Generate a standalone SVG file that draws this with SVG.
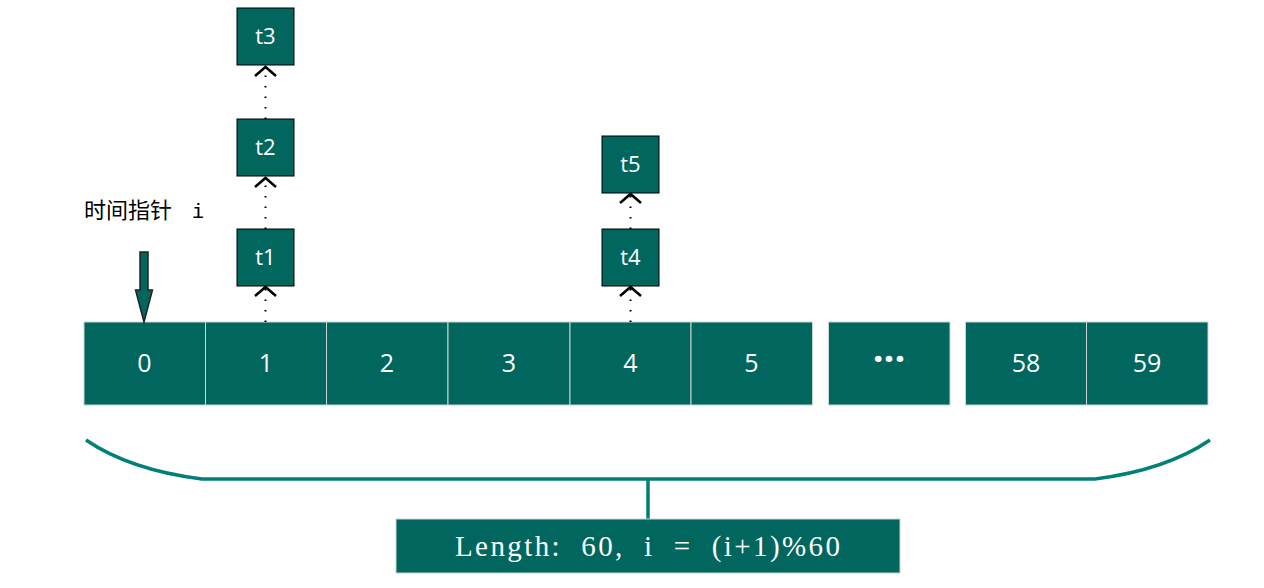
<svg xmlns="http://www.w3.org/2000/svg" width="1264" height="588" viewBox="0 0 1264 588">
<style>
.cell{fill:#00665E;stroke:#c8d6d4;stroke-width:1}
.lbl{font-family:"Open Sans","Noto Sans",sans-serif;font-size:25px;fill:#fff;text-anchor:middle}
.task{fill:#00665E;stroke:#000;stroke-width:1}
.tl{font-family:"Open Sans","Noto Sans",sans-serif;font-size:22px;fill:#fff;text-anchor:middle}
.dot{stroke:#000;stroke-width:2;stroke-dasharray:1.5 9;fill:none}
.chev{stroke:#000;stroke-width:2.5;fill:none}
.brace{stroke:#008077;stroke-width:3.5;fill:none}
</style>
<rect width="1264" height="588" fill="#fff"/>
<g id="slots">
<rect class="cell" x="84" y="322" width="121.5" height="83"/>
<rect class="cell" x="205.5" y="322" width="121" height="83"/>
<rect class="cell" x="326.5" y="322" width="121.5" height="83"/>
<rect class="cell" x="448" y="322" width="122" height="83"/>
<rect class="cell" x="570" y="322" width="121" height="83"/>
<rect class="cell" x="691" y="322" width="121.5" height="83"/>
<rect class="cell" x="828.5" y="322" width="121.5" height="83"/>
<rect class="cell" x="965.5" y="322" width="121" height="83"/>
<rect class="cell" x="1086.5" y="322" width="121.5" height="83"/>
<text class="lbl" x="144.5" y="372">0</text>
<text class="lbl" x="266" y="372">1</text>
<text class="lbl" x="387" y="372">2</text>
<text class="lbl" x="509" y="372">3</text>
<text class="lbl" x="630.5" y="372">4</text>
<text class="lbl" x="751.5" y="372">5</text>
<text class="lbl" x="889" y="372" style="font-weight:bold;font-size:38px">···</text>
<text class="lbl" x="1026" y="372">58</text>
<text class="lbl" x="1147" y="372">59</text>
</g>
<g id="connectors">
<line class="dot" x1="265.5" y1="322" x2="265.5" y2="288"/>
<polyline class="chev" points="255,296 265.5,287 276,296"/>
<line class="dot" x1="265.5" y1="229" x2="265.5" y2="178"/>
<polyline class="chev" points="255,187 265.5,178 276,187"/>
<line class="dot" x1="265.5" y1="119" x2="265.5" y2="67"/>
<polyline class="chev" points="255,76 265.5,67 276,76"/>
<line class="dot" x1="630.5" y1="322" x2="630.5" y2="288"/>
<polyline class="chev" points="620,296 630.5,287 641,296"/>
<line class="dot" x1="630.5" y1="229" x2="630.5" y2="195"/>
<polyline class="chev" points="620,203 630.5,194 641,203"/>
</g>
<g id="t1"><rect class="task" x="237" y="229" width="57" height="57"/><text class="tl" x="265.5" y="265">t1</text></g>
<g id="t2"><rect class="task" x="237" y="119" width="57" height="57"/><text class="tl" x="265.5" y="155">t2</text></g>
<g id="t3"><rect class="task" x="237" y="8" width="57" height="57"/><text class="tl" x="265.5" y="44">t3</text></g>
<g id="t4"><rect class="task" x="602" y="229" width="57" height="57"/><text class="tl" x="630.5" y="265">t4</text></g>
<g id="t5"><rect class="task" x="602" y="136" width="57" height="57"/><text class="tl" x="630.5" y="172">t5</text></g>
<g id="pointer">
<text x="84" y="218" font-family="'Liberation Serif','Noto Sans CJK SC',serif" font-size="22" fill="#000" xml:space="preserve">时间指针<tspan x="192" font-family="'Liberation Mono',monospace" font-size="20">i</tspan></text>
<polygon points="140,252 148,252 148,290 152.5,290 144,322 135.5,290 140,290" fill="#00665E" stroke="#222" stroke-width="1.5"/>
</g>
<g id="brace">
<path class="brace" d="M86,440 Q130,470 202,479 L1095,479 Q1166,470 1210,440"/>
<line class="brace" x1="648" y1="479" x2="648" y2="519"/>
</g>
<g id="formula">
<rect x="396" y="519" width="504" height="54" fill="#00665E" stroke="#c8d6d4" stroke-width="1"/>
<text x="455" y="556" font-family="'Liberation Serif','Noto Sans CJK SC',serif" font-size="29" fill="#fff" textLength="385" lengthAdjust="spacing" xml:space="preserve">Length:  60,  i  =  (i+1)%60</text>
</g>
</svg>
